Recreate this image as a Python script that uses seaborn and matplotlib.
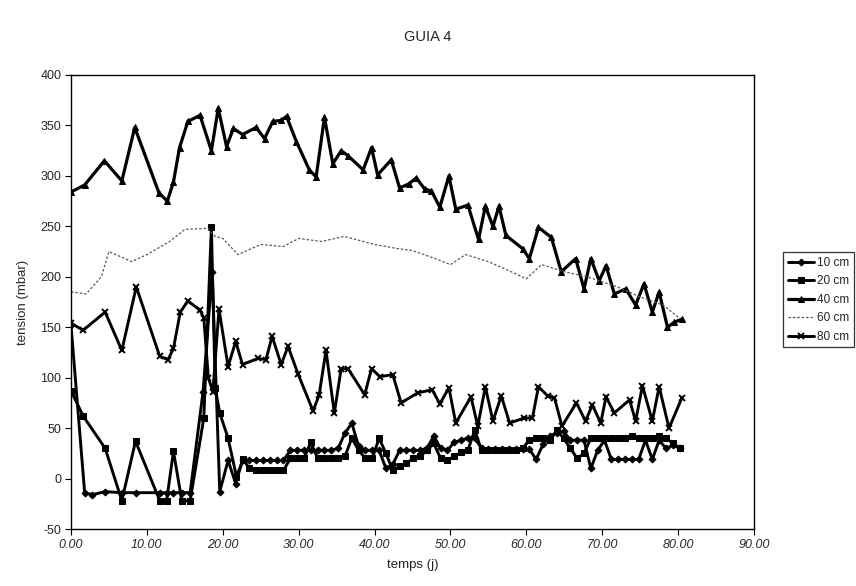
import numpy as np
import pandas as pd
import seaborn as sns
import matplotlib.pyplot as plt

# values (tension in mbar vs days)
t10 = [0, 1.8, 2.8, 4.5, 6.7, 8.6, 11.7, 12.7, 13.5, 14.6, 15.7, 17.4, 18.6, 19.6,
       20.7, 21.7, 22.6, 23.5, 24.4, 25.3, 26.2, 27.1, 28.0, 28.9, 29.8, 30.7, 31.6,
       32.5, 33.4, 34.3, 35.2, 36.1, 37.0, 37.9, 38.8, 39.7, 40.6, 41.5, 42.4, 43.3,
       44.2, 45.1, 46.0, 46.9, 47.8, 48.7, 49.6, 50.5, 51.4, 52.3, 53.2, 54.1, 55.0,
       55.9, 56.8, 57.7, 58.6, 59.5, 60.4, 61.3, 62.2, 63.1, 64.0, 64.9, 65.8, 66.7,
       67.6, 68.5, 69.4, 70.3, 71.2, 72.1, 73.0, 73.9, 74.8, 75.7, 76.6, 77.5, 78.4,
       79.3, 80.3]
v10 = [152, -14, -16, -13, -14, -14, -14, -14, -14, -14, -14, 86, 205, -13,
       18, -5, 18, 18, 18, 18, 18, 18, 18, 28, 28, 28, 28,
       28, 28, 28, 30, 45, 55, 32, 28, 28, 28, 10, 14, 28,
       28, 28, 28, 30, 42, 30, 28, 36, 38, 40, 40, 30, 29,
       29, 29, 29, 29, 29, 29, 19, 34, 42, 45, 47, 38, 38,
       38, 10, 28, 38, 19, 19, 19, 19, 19, 38, 19, 38, 30,
       33, 30]

t20 = [0, 1.6, 4.5, 6.7, 8.5, 11.7, 12.6, 13.5, 14.6, 15.7, 17.5, 18.5, 19.0, 19.6,
       20.7, 21.8, 22.7, 23.5, 24.4, 25.3, 26.2, 27.1, 28.0, 28.9, 29.8, 30.7, 31.6,
       32.5, 33.4, 34.3, 35.2, 36.1, 37.0, 37.9, 38.8, 39.7, 40.6, 41.5, 42.4, 43.3,
       44.2, 45.1, 46.0, 46.9, 47.8, 48.7, 49.6, 50.5, 51.4, 52.3, 53.2, 54.1, 55.0,
       55.9, 56.8, 57.7, 58.6, 59.5, 60.4, 61.3, 62.2, 63.1, 64.0, 64.9, 65.8, 66.7,
       67.6, 68.5, 69.4, 70.3, 71.2, 72.1, 73.0, 73.9, 74.8, 75.7, 76.6, 77.5, 78.4,
       79.3, 80.3]
v20 = [87, 62, 30, -22, 37, -22, -22, 27, -22, -22, 60, 249, 90, 65,
       40, 2, 19, 10, 8, 8, 8, 8, 8, 20, 20, 20, 36,
       20, 20, 20, 20, 22, 40, 28, 20, 20, 40, 25, 8, 12,
       15, 20, 22, 28, 35, 20, 18, 22, 26, 28, 48, 28, 28,
       28, 28, 28, 28, 30, 38, 40, 40, 38, 48, 40, 30, 20,
       25, 40, 40, 40, 40, 40, 40, 42, 40, 40, 40, 42, 40,
       35, 30]

t40 = [0, 1.8, 4.4, 6.7, 8.4, 11.6, 12.7, 13.5, 14.3, 15.4, 17.0, 18.5, 19.4, 20.5,
       21.4, 22.6, 24.4, 25.5, 26.6, 27.7, 28.4, 29.7, 31.4, 32.3, 33.4, 34.5, 35.6,
       36.5, 38.5, 39.6, 40.4, 42.2, 43.3, 44.5, 45.5, 46.6, 47.5, 48.6, 49.8, 50.7,
       52.3, 53.7, 54.6, 55.6, 56.4, 57.3, 59.5, 60.4, 61.6, 63.3, 64.6, 66.5, 67.6,
       68.5, 69.6, 70.5, 71.6, 73.1, 74.4, 75.5, 76.6, 77.5, 78.6, 79.5, 80.5]
v40 = [284, 291, 315, 295, 348, 283, 275, 294, 328, 354, 360, 325, 367, 329,
       347, 341, 348, 337, 354, 355, 359, 334, 306, 299, 358, 312, 325,
       320, 306, 328, 301, 316, 288, 292, 298, 287, 285, 269, 300, 267,
       271, 237, 270, 250, 270, 241, 228, 218, 249, 239, 205, 218, 188,
       218, 196, 211, 183, 188, 172, 193, 165, 185, 150, 155, 158]

t60 = [0, 2, 4, 5, 8, 10, 13, 15, 18, 19, 20, 22, 25, 28, 30, 33, 36, 38, 40, 43,
       45, 48, 50, 52, 55, 58, 60, 62, 65, 68, 70, 72, 75, 78, 80]
v60 = [185, 183, 200, 225, 215, 222, 235, 247, 248, 240, 238, 222, 232, 230, 238,
       235, 240, 236, 232, 228, 226, 218, 212, 222, 215, 205, 198, 212, 205, 200,
       195, 190, 180, 172, 160]

t80 = [0, 1.6, 4.5, 6.7, 8.6, 11.7, 12.8, 13.5, 14.4, 15.4, 17.0, 17.5, 18.1, 18.7,
       19.5, 20.7, 21.7, 22.6, 24.6, 25.7, 26.5, 27.7, 28.6, 29.9, 31.9, 32.7, 33.6,
       34.7, 35.6, 36.5, 38.7, 39.6, 40.7, 42.4, 43.5, 45.7, 47.6, 48.6, 49.8, 50.7,
       52.7, 53.6, 54.6, 55.6, 56.7, 57.8, 59.7, 60.8, 61.6, 62.8, 63.7, 64.7, 66.6,
       67.8, 68.7, 69.8, 70.5, 71.6, 73.6, 74.4, 75.3, 76.6, 77.5, 78.8, 80.5]
v80 = [154, 147, 165, 127, 190, 121, 118, 129, 165, 176, 167, 159, 100, 86,
       168, 111, 136, 113, 119, 118, 141, 113, 131, 104, 67, 83, 127,
       65, 109, 109, 83, 109, 101, 103, 75, 85, 88, 74, 90, 55,
       81, 52, 91, 57, 82, 55, 60, 60, 91, 82, 80, 52, 75,
       57, 73, 55, 81, 65, 78, 57, 92, 57, 91, 50, 80]

series = [('10 cm', t10, v10), ('20 cm', t20, v20), ('40 cm', t40, v40),
          ('60 cm', t60, v60), ('80 cm', t80, v80)]
df = pd.concat([pd.DataFrame({'temps': t, 'tension': v, 'prof': name})
                for name, t, v in series], ignore_index=True)

sns.set_style('white')
plt.rcParams['font.family'] = ['Liberation Sans', 'DejaVu Sans']

fig = plt.figure(figsize=(8.56, 5.86), dpi=100)
ax = fig.add_axes([71 / 856, 1 - 529 / 586, (754 - 71) / 856, (529 - 75) / 586])

# seaborn draws marker edges in white by default, force black everywhere
styles = {'10 cm': dict(marker='D', markersize=3.5, lw=2.1),
          '20 cm': dict(marker='s', markersize=4, lw=2.1),
          '40 cm': dict(marker='^', markersize=4.5, lw=2.3),
          '60 cm': dict(marker=None, lw=0.9, linestyle=(0, (2, 1.5))),
          '80 cm': dict(marker='x', markersize=5, mew=1.4, lw=2.1)}

for name in ['10 cm', '20 cm', '40 cm', '60 cm', '80 cm']:
    sub = df[df['prof'] == name]
    col = '0.35' if name == '60 cm' else 'black'
    sns.lineplot(data=sub, x='temps', y='tension', ax=ax, sort=False,
                 estimator=None, label=name, color=col, mec=col, mfc=col,
                 **styles[name])

ax.set_xlim(0, 90)
ax.set_ylim(-50, 400)
ax.set_xticks(np.arange(0, 91, 10))
ax.set_xticklabels([f'{x:.2f}' for x in np.arange(0, 91, 10)],
                   fontstyle='italic', fontsize=9)
ax.set_yticks(np.arange(-50, 401, 50))
ax.set_yticklabels([str(y) for y in range(-50, 401, 50)], fontsize=9)
ax.tick_params(axis='both', direction='out', length=4, width=0.8,
               bottom=True, left=True, color='black', pad=3)
for s in ax.spines.values():
    s.set_color('black')
    s.set_linewidth(1.0)

ax.set_xlabel('temps (j)', fontsize=9.5, labelpad=6)
ax.set_ylabel('tension (mbar)', fontsize=9.5, labelpad=8)
fig.text(0.5, 1 - 37 / 586, 'GUIA 4', ha='center', va='center', fontsize=10.5)

leg = ax.legend(loc='upper left', bbox_to_anchor=(783 / 856, 1 - 252 / 586),
                bbox_transform=fig.transFigure, frameon=True, fancybox=False,
                edgecolor='black', fontsize=8.5, handlelength=2.2,
                borderpad=0.4, labelspacing=0.55, handletextpad=0.3,
                borderaxespad=0)
leg.get_frame().set_linewidth(0.9)

fig.savefig('out.png', dpi=100)
